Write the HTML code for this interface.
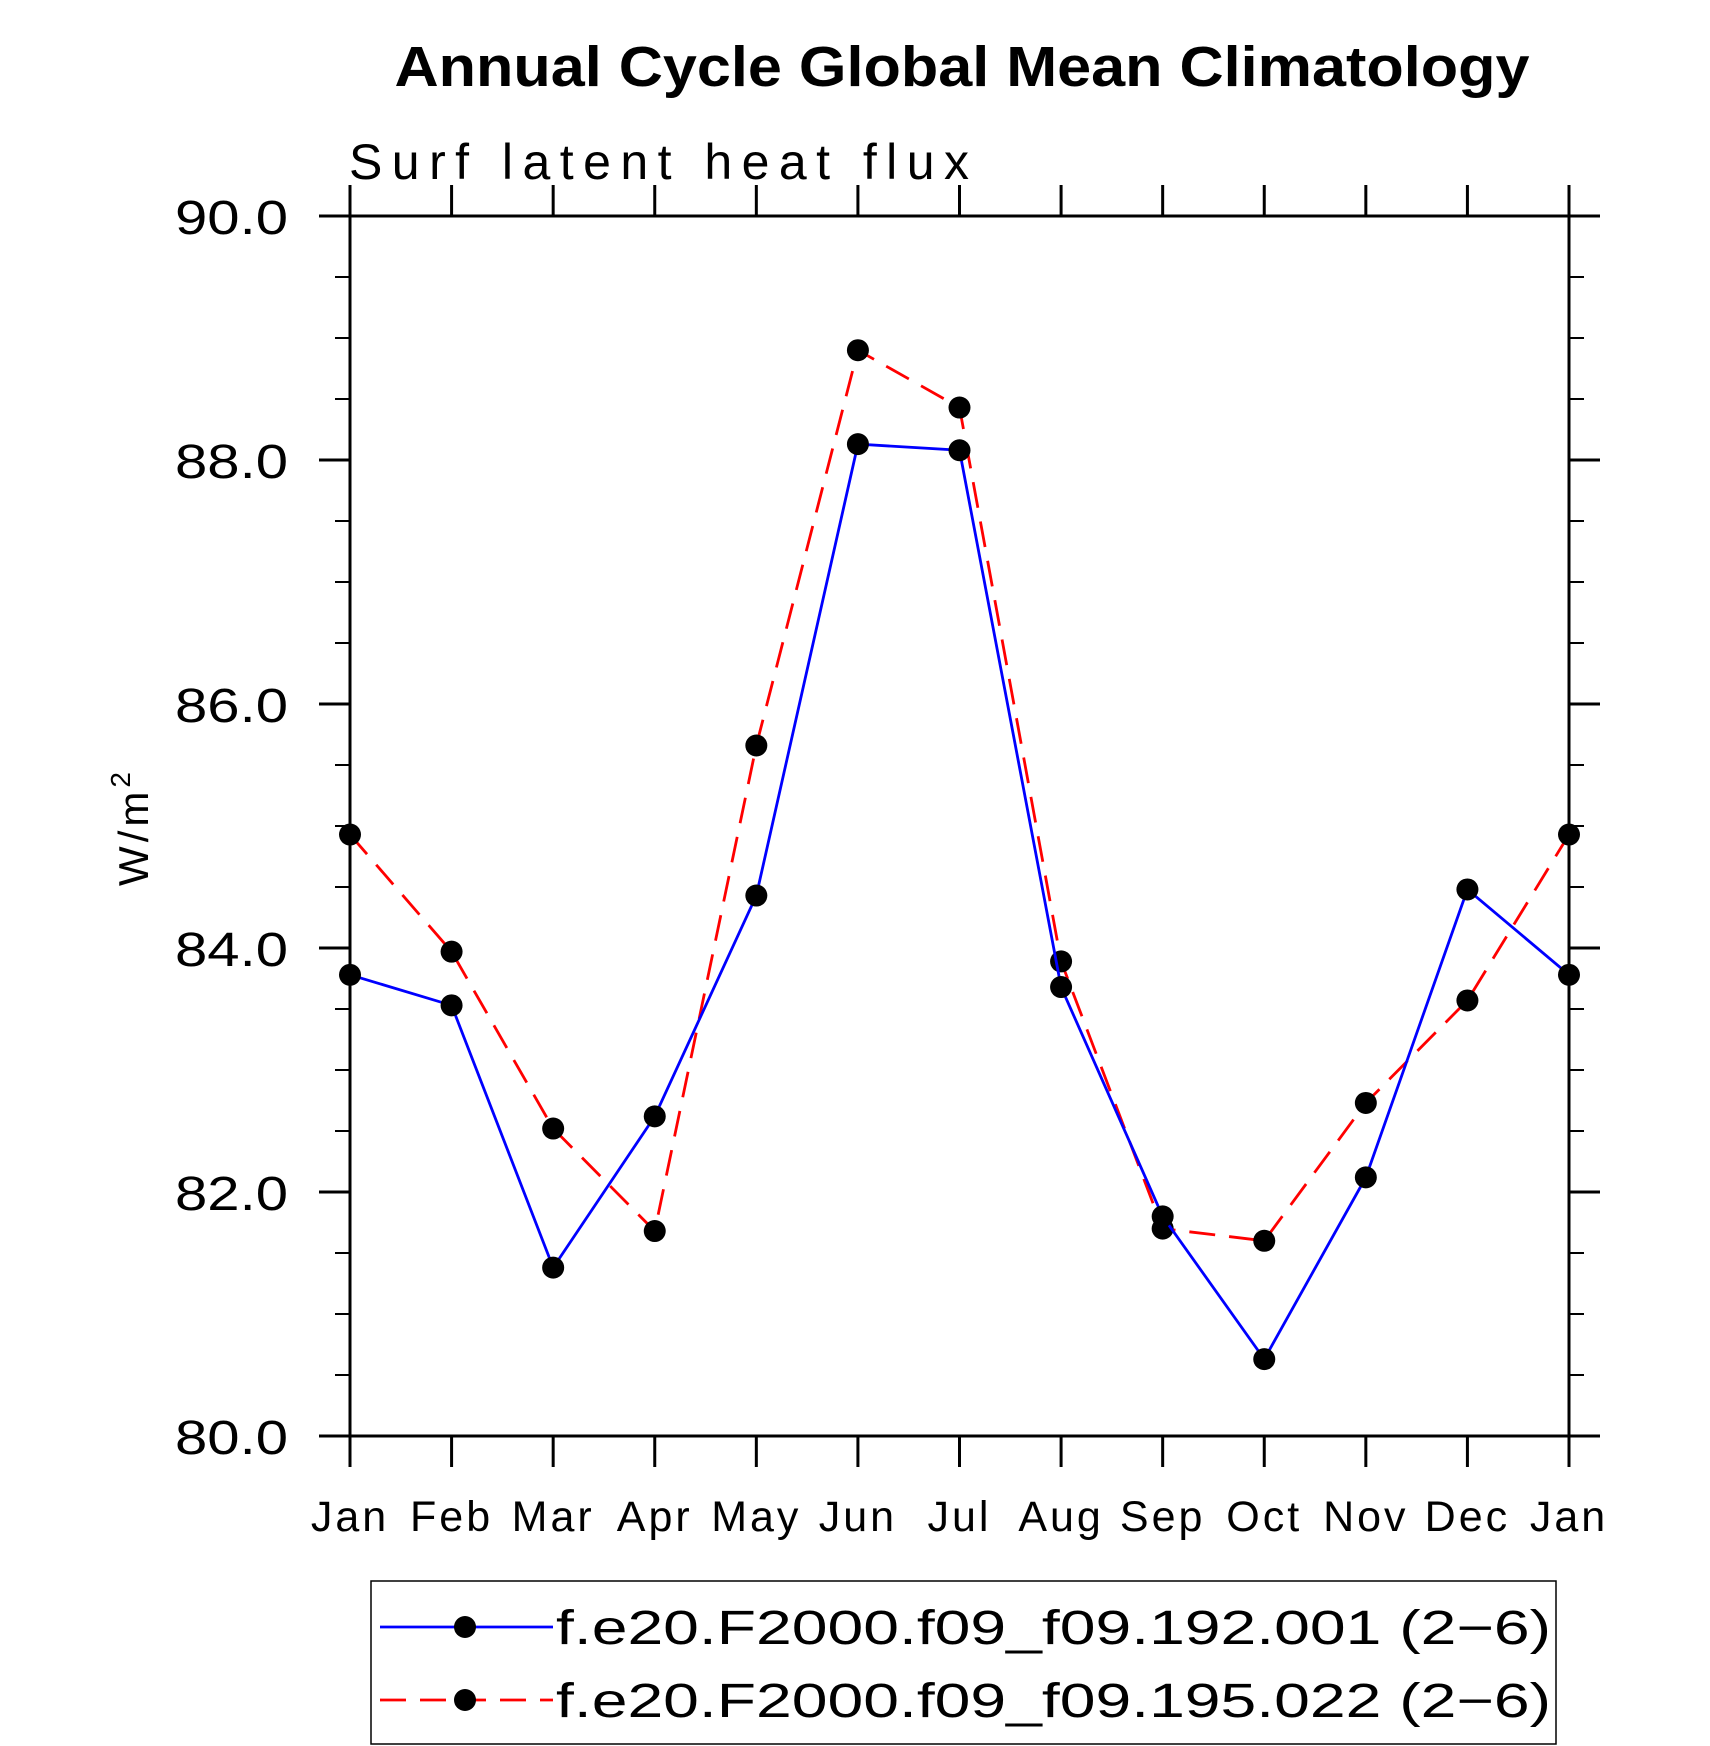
<!DOCTYPE html>
<html><head><meta charset="utf-8"><style>
html,body{margin:0;padding:0;background:#fff;}
svg{display:block;}
text{font-family:"Liberation Sans",sans-serif;}
</style></head><body>
<svg id="chart" width="1710" height="1746" viewBox="0 0 1710 1746" xmlns="http://www.w3.org/2000/svg">
<text x="962" y="86" text-anchor="middle" font-size="57" font-weight="bold" textLength="1135" lengthAdjust="spacingAndGlyphs">Annual Cycle Global Mean Climatology</text>
<text x="349" y="179" font-size="50" font-weight="300" textLength="623" lengthAdjust="spacing" letter-spacing="3">Surf latent heat flux</text>
<text transform="translate(148,827) rotate(-90)" text-anchor="middle" font-size="42" letter-spacing="4">W/m<tspan font-size="28" dy="-18">2</tspan></text>
<g id="axes"></g>
<g id="series"></g>
<g id="legend">
<rect x="371" y="1581" width="1185" height="163" fill="none" stroke="#000" stroke-width="1.5"/>
</g>
</svg>
<script>
const months = ["Jan","Feb","Mar","Apr","May","Jun","Jul","Aug","Sep","Oct","Nov","Dec","Jan"];
const yTicks = [80,82,84,86,88,90];
const yTickLabels = ["80.0","82.0","84.0","86.0","88.0","90.0"];
const seriesNames = ["f.e20.F2000.f09_f09.192.001 (2\u22126)","f.e20.F2000.f09_f09.195.022 (2\u22126)"];
const blueValues = [83.78,83.53,81.38,82.62,84.43,88.13,88.08,83.68,81.80,80.63,82.12,84.48,83.78];
const redValues = [84.93,83.97,82.52,81.68,85.66,88.90,88.43,83.89,81.70,81.60,82.73,83.57,84.93];

const NS="http://www.w3.org/2000/svg";
const L=350,R=1569,T=216,B=1436,yMin=80,yMax=90;
const xs=i=>L+(R-L)*i/(months.length-1);
const ys=v=>B-(B-T)*(v-yMin)/(yMax-yMin);
function mk(tag,attrs,parent){const e=document.createElementNS(NS,tag);for(const k in attrs)e.setAttribute(k,attrs[k]);parent.appendChild(e);return e;}
const axes=document.getElementById('axes');
const frame=mk('rect',{x:L,y:T,width:R-L,height:B-T,fill:'none',stroke:'#000','stroke-width':3},axes);


months.forEach((m,i)=>{
  const x=xs(i);
  const t1=mk('line',{x1:x,y1:B,x2:x,y2:B+31,stroke:'#000','stroke-width':3},axes);
  
  
  const t2=mk('line',{x1:x,y1:T,x2:x,y2:T-31,stroke:'#000','stroke-width':3},axes);
  
  
  const lb=mk('text',{x:x,y:1531,'text-anchor':'middle','font-size':43,'letter-spacing':3},axes);
  lb.textContent=m;
  
  
});
for(let v=yMin; v<=yMax+1e-9; v+=0.5){
  const y=ys(v); const major=Math.abs(v%2)<1e-6;
  const len=major?31:15;
  const a=mk('line',{x1:L,y1:y,x2:L-len,y2:y,stroke:'#000','stroke-width':major?3:2},axes);
  
  
  const b=mk('line',{x1:R,y1:y,x2:R+len,y2:y,stroke:'#000','stroke-width':major?3:2},axes);
  
  
}
yTicks.forEach((v,i)=>{
  const lb=mk('text',{x:175,y:ys(v)+18,'font-size':48,'font-weight':'300',textLength:113,lengthAdjust:'spacingAndGlyphs'},axes);
  lb.textContent=yTickLabels[i];
  
  
});
const sg=document.getElementById('series');
function drawSeries(vals,color,dash,name){
  const pts=vals.map((v,i)=>xs(i)+','+ys(v)).join(' ');
  const pl=mk('polyline',{points:pts,fill:'none',stroke:color,'stroke-width':2.8,'stroke-dasharray':dash},sg);
  
  
  vals.forEach((v,i)=>{
    const c=mk('circle',{cx:xs(i),cy:ys(v),r:11,fill:'#000'},sg);
    
    
  });
}
drawSeries(redValues,'#f00','26 14','red-series');
drawSeries(blueValues,'#00f','none','blue-series');
const lg=document.getElementById('legend');
const rows=[{y:1627,c:'#00f',d:'none'},{y:1700,c:'#f00','d':'26 14'}];
rows.forEach((r,i)=>{
  const ln=mk('line',{x1:380,y1:r.y,x2:553,y2:r.y,stroke:r.c,'stroke-width':2.8,'stroke-dasharray':r.d},lg);
  
  
  const c=mk('circle',{cx:465,cy:r.y,r:11,fill:'#000'},lg);
  
  
  const t=mk('text',{x:556,y:r.y+17,'font-size':48,'font-weight':'300',textLength:995,lengthAdjust:'spacingAndGlyphs'},lg);
  t.textContent=seriesNames[i];
  
  
});
</script>
</body></html>
